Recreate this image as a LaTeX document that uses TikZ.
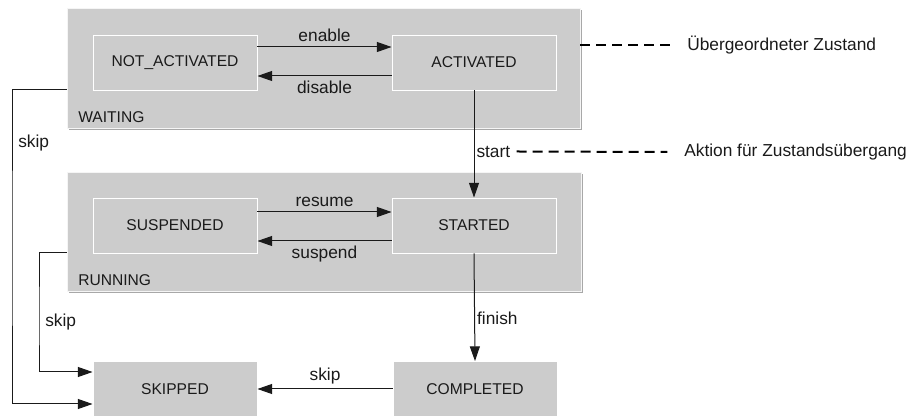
\documentclass[tikz,border=0pt]{standalone}
\usepackage{fontspec}
\setmainfont{Liberation Sans}
\usetikzlibrary{arrows.meta,shadows}

\definecolor{boxfill}{HTML}{CCCCCC}
\definecolor{boxshade}{HTML}{A8A8A8}
\definecolor{ink}{HTML}{1A1A1A}

\tikzset{
  state/.style={rectangle, fill=boxfill, draw=white, line width=0.7pt,
    minimum width=164*0.75pt, minimum height=55*0.75pt, inner sep=0pt,
    text=ink, font=\fontsize{11.7}{13}\selectfont,
    drop shadow={shadow xshift=1.1pt, shadow yshift=-1.1pt, fill=boxshade, opacity=1}},
  superstate/.style={rectangle, fill=boxfill, draw=white!80!boxfill, line width=0.7pt,
    inner sep=0pt,
    drop shadow={shadow xshift=1.6pt, shadow yshift=-1.6pt, fill=boxshade, opacity=1}},
  statename/.style={text=ink, font=\fontsize{11.7}{13}\selectfont, inner sep=0pt, anchor=west},
  trans/.style={draw=ink, line width=0.75pt, -{Triangle[length=11pt, width=7.5pt]}},
  translabel/.style={text=ink, font=\fontsize{13}{15}\selectfont, inner sep=1.5pt},
  note/.style={text=ink, font=\fontsize{13}{15}\selectfont, inner sep=0pt, anchor=west},
  leader/.style={draw=black, line width=1.5pt, dash pattern=on 7.5pt off 4.5pt},
}

\begin{document}
\begin{tikzpicture}[x=0.75pt, y=-0.75pt]
\useasboundingbox (0,0) rectangle (911,416);

% composite states
\node[superstate, minimum width=513*0.75pt, minimum height=120*0.75pt] (waiting) at (323.5,68) {};
\node[statename] (waitingname) at (78,117) {WAITING};
\node[superstate, minimum width=514*0.75pt, minimum height=119*0.75pt] (running) at (324,231.5) {};
\node[statename] (runningname) at (78,280) {RUNNING};

% simple states
\node[state] (notact)    at (175,62.5)  {NOT\_ACTIVATED};
\node[state] (act)       at (474,62.5)  {ACTIVATED};
\node[state] (suspended) at (175,225.5) {SUSPENDED};
\node[state] (started)   at (474,225.5) {STARTED};
\node[state] (skipped)   at (175,389)   {SKIPPED};
\node[state] (completed) at (475,389)   {COMPLETED};

% transitions inside WAITING
\draw[trans] (notact.east |- 0,47) -- node[translabel, above=1.8pt] {enable} (act.west |- 0,47);
\draw[trans] (act.west |- 0,76) -- node[translabel, below=2.2pt] {disable} (notact.east |- 0,76);

% transitions inside RUNNING
\draw[trans] (suspended.east |- 0,212) -- node[translabel, above=1.8pt] {resume} (started.west |- 0,212);
\draw[trans] (started.west |- 0,241) -- node[translabel, below=2.2pt] {suspend} (suspended.east |- 0,241);

% start and finish
\draw[trans] (act.south) -- node[translabel, right, pos=0.57] (startlbl) {start} (started.north);
\draw[trans] (started.south) -- node[translabel, right, pos=0.6] {finish} (completed.north);

% skip transitions
\draw[trans] (completed.west) -- node[translabel, above=1.5pt] {skip} (skipped.east);
\coordinate (lane1) at (12,250);
\coordinate (lane2) at (39,320);
\draw[trans] (waiting.west |- 0,90) -| (lane1) |- (skipped.west |- 0,404);
\draw[trans] (running.west |- 0,253) -| (lane2) |- (skipped.west |- 0,372);
\node[translabel, anchor=west] at (16,143) {skip};
\node[translabel, anchor=west] at (43,322) {skip};

% legend
\node[note] (ueber)  at (687,45)  {Übergeordneter Zustand};
\node[note] (aktion) at (684,152) {Aktion für Zustandsübergang};
\draw[leader] (waiting.east |- 0,45) -- ([xshift=-10.5pt]ueber.west);
\draw[leader] ([xshift=3pt]startlbl.east) -- ([xshift=-12.5pt]aktion.west);
\end{tikzpicture}
\end{document}
